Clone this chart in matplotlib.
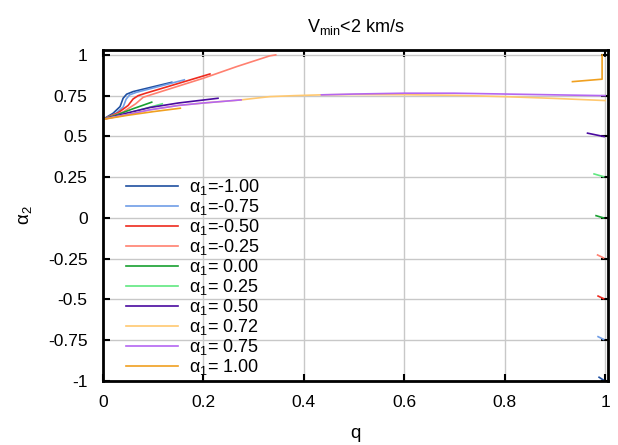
import numpy as np
import matplotlib
matplotlib.use("Agg")
import matplotlib.pyplot as plt

plt.rcParams['font.family'] = ['Liberation Sans', 'DejaVu Sans']
plt.rcParams['mathtext.fontset'] = 'custom'
plt.rcParams['mathtext.rm'] = 'Liberation Sans'
plt.rcParams['mathtext.it'] = 'Liberation Sans'

nan = np.nan

## alpha_1 values and curve colours (legend order)
alpha1 = [-1.00, -0.75, -0.50, -0.25, 0.00, 0.25, 0.50, 0.72, 0.75, 1.00]
colors = ['#1f4fa0', '#6f9de6', '#ee2a1e', '#ff8070', '#18a030',
          '#60e880', '#4a0aa0', '#ffc870', '#b466f2', '#f0a020']

## q / alpha_2 points, nan = gap between pieces
q_m100 = [0.0, 0.02, 0.034, 0.040, 0.047, 0.060, 0.137, nan, 0.988, 0.997]
a_m100 = [0.605, 0.642, 0.683, 0.734, 0.759, 0.775, 0.832, nan, -0.977, -0.995]

q_m075 = [0.0, 0.025, 0.040, 0.046, 0.053, 0.066, 0.162, nan, 0.986, 0.997]
a_m075 = [0.605, 0.64, 0.68, 0.728, 0.755, 0.770, 0.847, nan, -0.728, -0.745]

q_m050 = [0.0, 0.03, 0.05, 0.060, 0.070, 0.085, 0.213, nan, 0.986, 0.997]
a_m050 = [0.605, 0.645, 0.69, 0.73, 0.75, 0.765, 0.883, nan, -0.479, -0.495]

q_m025 = [0.0, 0.04, 0.065, 0.080, 0.095, 0.20, 0.266, 0.332, 0.344, nan, 0.985, 0.997]
a_m025 = [0.605, 0.65, 0.70, 0.74, 0.755, 0.857, 0.928, 0.994, 1.0, nan, -0.227, -0.245]

q_000 = [0.0, 0.03, 0.06, 0.097, nan, 0.982, 0.997]
a_000 = [0.605, 0.635, 0.67, 0.71, nan, 0.014, 0.0]

q_025 = [0.0, 0.04, 0.08, 0.118, nan, 0.978, 0.997]
a_025 = [0.605, 0.635, 0.668, 0.70, nan, 0.27, 0.253]

q_050 = [0.0, 0.05, 0.093, 0.15, 0.229, nan, 0.965, 0.998]
a_050 = [0.605, 0.645, 0.677, 0.705, 0.734, nan, 0.52, 0.499]

q_072 = [0.0, 0.05, 0.093, 0.15, 0.20, 0.275, 0.30, 0.332, 0.38, 0.435, 0.5, 0.6, 0.7, 0.8, 0.9, 1.0]
a_072 = [0.605, 0.635, 0.663, 0.69, 0.705, 0.724, 0.733, 0.744, 0.75, 0.755, 0.757, 0.756, 0.752, 0.744, 0.733, 0.72]

q_075 = [0.0, 0.05, 0.093, 0.15, 0.20, 0.275, nan, 0.435, 0.5, 0.6, 0.7, 0.8, 0.9, 1.0]
a_075 = [0.605, 0.635, 0.663, 0.69, 0.705, 0.724, nan, 0.755, 0.76, 0.765, 0.765, 0.76, 0.755, 0.75]

q_100 = [0.0, 0.05, 0.10, 0.154, nan, 0.935, 0.994, 0.994]
a_100 = [0.605, 0.63, 0.652, 0.673, nan, 0.836, 0.851, 1.0]

qs = [q_m100, q_m075, q_m050, q_m025, q_000, q_025, q_050, q_072, q_075, q_100]
alphas2 = [a_m100, a_m075, a_m050, a_m025, a_000, a_025, a_050, a_072, a_075, a_100]

xticks = [0, 0.2, 0.4, 0.6, 0.8, 1]
xticklabels = ['0', '0.2', '0.4', '0.6', '0.8', '1']
yticks = [-1, -0.75, -0.5, -0.25, 0, 0.25, 0.5, 0.75, 1]
yticklabels = ['-1', '-0.75', '-0.5', '-0.25', '0', '0.25', '0.5', '0.75', '1']

fig = plt.figure(figsize=(6.18, 4.45), dpi=100)
ax = fig.add_axes([0.1667, 0.1438, 0.8173, 0.7442])

for a1, c, q, a2 in zip(alpha1, colors, qs, alphas2):
    if a1 >= 0:
        lab = 'α$_1$= %.2f' % a1
    else:
        lab = 'α$_1$=%.2f' % a1
    ax.plot(q, a2, color=c, lw=1.2, label=lab)

ax.set_xlim(0, 1.006)
ax.set_ylim(-1, 1.031)
ax.set_xticks(xticks)
ax.set_xticklabels(xticklabels)
ax.set_yticks(yticks)
ax.set_yticklabels(yticklabels)
ax.grid(True, color='#c8c8c8', lw=1.0)
ax.set_axisbelow(True)
ax.tick_params(direction='in', length=5, width=1.5, top=True, right=True, labelsize=12.5)
ax.tick_params(axis='y', pad=11)
ax.tick_params(axis='x', pad=10)
for s in ax.spines.values():
    s.set_linewidth(2.0)

ax.set_xlabel('q', fontsize=13.5, labelpad=11)
ax.set_ylabel('α$_2$', fontsize=13.5, labelpad=10)
ax.set_title('V$_{\\rm min}$<2 km/s', fontsize=13, pad=13)

ax.legend(loc='upper left', bbox_to_anchor=(0.045, 0.615), frameon=False,
          fontsize=13, handlelength=2.9, handletextpad=0.6, labelspacing=0.0,
          borderpad=0, borderaxespad=0)

fig.savefig('out.png', dpi=100)
